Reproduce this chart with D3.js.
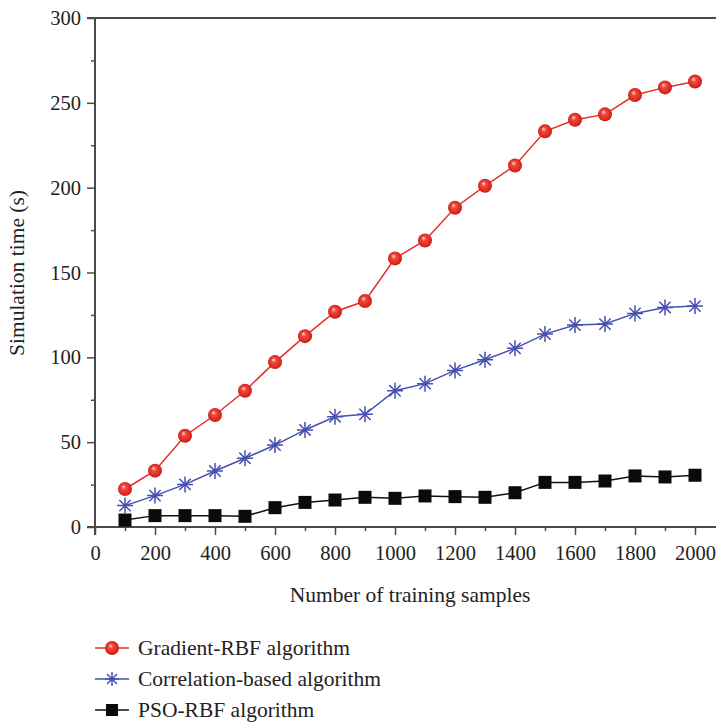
<!DOCTYPE html>
<html>
<head>
<meta charset="utf-8">
<script src="https://cdn.jsdelivr.net/npm/d3@7"></script>
<style>
  body { margin: 0; background: #fff; }
</style>
</head>
<body>
<div id="chart-area"></div>
<script>
// training sample counts
var samples = [100, 200, 300, 400, 500, 600, 700, 800, 900, 1000,
  1100, 1200, 1300, 1400, 1500, 1600, 1700, 1800, 1900, 2000]

// simulation times (s)
var gradientRBF = [22.4, 33.2, 53.8, 66.0, 80.3, 97.2, 112.5, 126.9, 133.2, 158.3,
  168.9, 188.2, 201.1, 213.1, 233.2, 240.0, 243.2, 254.6, 259.1, 262.6]
var correlationBased = [12.6, 18.5, 25.1, 33.0, 40.5, 48.3, 57.2, 65.0, 66.4, 80.3,
  84.5, 92.3, 98.6, 105.3, 113.7, 119.0, 119.6, 125.9, 129.4, 130.2]
var psoRBF = [4.1, 6.7, 6.7, 6.7, 6.3, 11.4, 14.5, 15.9, 17.5, 16.9,
  18.3, 17.9, 17.5, 20.2, 26.3, 26.3, 27.1, 30.1, 29.5, 30.5]

var xTicks = [0, 200, 400, 600, 800, 1000, 1200, 1400, 1600, 1800, 2000]
var yTicks = [0, 50, 100, 150, 200, 250, 300]
var seriesNames = ["Gradient-RBF algorithm", "Correlation-based algorithm", "PSO-RBF algorithm"]

var width = 716, height = 722
var serif = "'Liberation Serif'"
var fs = 20.5

var svg = d3.select("#chart-area")
  .append("svg")
  .attr("width", width)
  .attr("height", height)
  .style("font-family", serif)

var defs = svg.append("defs")
var grad = defs.append("radialGradient")
  .attr("id", "ball")
  .attr("cx", "50%").attr("cy", "50%").attr("r", "55%")
  .attr("fx", "38%").attr("fy", "32%")
grad.append("stop").attr("offset", "0%").attr("stop-color", "#fde2e2")
grad.append("stop").attr("offset", "30%").attr("stop-color", "#ee4a40")
grad.append("stop").attr("offset", "75%").attr("stop-color", "#e0271d")
grad.append("stop").attr("offset", "100%").attr("stop-color", "#b5170f")

var x = d3.scaleLinear()
  .domain([0, 2070])
  .range([95, 716])

var y = d3.scaleLinear()
  .domain([0, 300])
  .range([527, 18])

var axisColor = "#4a4a4a"

// frame lines
svg.append("line")
  .attr("x1", 95).attr("x2", 95)
  .attr("y1", y(300)).attr("y2", y(0) + 8)
  .attr("stroke", axisColor).attr("stroke-width", 2)
svg.append("line")
  .attr("x1", 87).attr("x2", width)
  .attr("y1", y(0)).attr("y2", y(0))
  .attr("stroke", axisColor).attr("stroke-width", 2)
svg.append("line")
  .attr("x1", 87).attr("x2", width)
  .attr("y1", y(300)).attr("y2", y(300))
  .attr("stroke", axisColor).attr("stroke-width", 2)

function styleAxis(g) {
  g.attr("font-family", null).attr("font-size", null)
  g.select(".domain").remove()
  g.selectAll("line").attr("stroke", axisColor).attr("stroke-width", 1.5)
  g.selectAll("text")
    .style("font-family", serif)
    .style("font-size", fs + "px")
    .attr("fill", "#222")
}

// y axis
svg.append("g")
  .attr("transform", "translate(95,0)")
  .call(d3.axisLeft(y).tickValues(yTicks).tickSize(8).tickPadding(6).tickFormat(d3.format("d")))
  .call(styleAxis)

svg.append("g")
  .attr("transform", "translate(95,0)")
  .call(d3.axisLeft(y).tickValues([25, 75, 125, 175, 225, 275]).tickSize(4).tickFormat(""))
  .call(styleAxis)

// x axis
svg.append("g")
  .attr("transform", "translate(0," + y(0) + ")")
  .call(d3.axisBottom(x).tickValues(xTicks).tickSize(8).tickPadding(10).tickFormat(d3.format("d")))
  .call(styleAxis)

svg.append("g")
  .attr("transform", "translate(0," + y(0) + ")")
  .call(d3.axisBottom(x).tickValues(d3.range(100, 2100, 200)).tickSize(4).tickFormat(""))
  .call(styleAxis)

// axis titles
svg.append("text")
  .attr("x", 410)
  .attr("y", 602)
  .attr("text-anchor", "middle")
  .style("font-size", "21.5px")
  .attr("fill", "#222")
  .text("Number of training samples")

svg.append("text")
  .attr("transform", "translate(24,273) rotate(-90)")
  .attr("text-anchor", "middle")
  .style("font-size", "21.5px")
  .attr("fill", "#222")
  .text("Simulation time (s)")

var line = d3.line()
  .x(function(d) { return x(d[0]) })
  .y(function(d) { return y(d[1]) })

function pairs(vals) {
  return samples.map(function(s, i) { return [s, vals[i]] })
}

// asterisk marker path
function star(r) {
  var p = ""
  for (var k = 0; k < 4; k++) {
    var a = k * Math.PI / 4
    var dx = r * Math.cos(a), dy = r * Math.sin(a)
    p += "M" + (-dx) + "," + (-dy) + "L" + dx + "," + dy
  }
  return p
}

// black series
svg.append("path")
  .datum(pairs(psoRBF))
  .attr("d", line)
  .attr("fill", "none")
  .attr("stroke", "#111")
  .attr("stroke-width", 1.5)
svg.selectAll(".sq")
  .data(pairs(psoRBF))
  .enter()
  .append("rect")
  .attr("x", function(d) { return x(d[0]) - 6.5 })
  .attr("y", function(d) { return y(d[1]) - 6.5 })
  .attr("width", 13)
  .attr("height", 13)
  .attr("fill", "#0a0a0a")

// blue series
svg.append("path")
  .datum(pairs(correlationBased))
  .attr("d", line)
  .attr("fill", "none")
  .attr("stroke", "#4650b0")
  .attr("stroke-width", 1.5)
svg.selectAll(".st")
  .data(pairs(correlationBased))
  .enter()
  .append("path")
  .attr("transform", function(d) { return "translate(" + x(d[0]) + "," + y(d[1]) + ")" })
  .attr("d", star(8))
  .attr("stroke", "#4650b0")
  .attr("stroke-width", 1.5)
  .attr("fill", "none")

// red series
svg.append("path")
  .datum(pairs(gradientRBF))
  .attr("d", line)
  .attr("fill", "none")
  .attr("stroke", "#e4302a")
  .attr("stroke-width", 1.5)
svg.selectAll(".ball")
  .data(pairs(gradientRBF))
  .enter()
  .append("circle")
  .attr("cx", function(d) { return x(d[0]) })
  .attr("cy", function(d) { return y(d[1]) })
  .attr("r", 7)
  .attr("fill", "url(#ball)")

// legend
var legendY = [648, 679, 710]
var legendColors = ["#e4302a", "#4650b0", "#111"]
var legend = svg.selectAll(".legend")
  .data(seriesNames)
  .enter()
  .append("g")
  .attr("transform", function(d, i) { return "translate(0," + legendY[i] + ")" })

legend.append("line")
  .attr("x1", 95).attr("x2", 129)
  .attr("y1", 0).attr("y2", 0)
  .attr("stroke", function(d, i) { return legendColors[i] })
  .attr("stroke-width", 1.5)

legend.append("text")
  .attr("x", 138)
  .attr("y", 7)
  .style("font-size", "21.5px")
  .attr("fill", "#222")
  .text(function(d) { return d })

legend.filter(function(d, i) { return i === 0 })
  .append("circle")
  .attr("cx", 112).attr("cy", 0).attr("r", 7)
  .attr("fill", "url(#ball)")
legend.filter(function(d, i) { return i === 1 })
  .append("path")
  .attr("transform", "translate(112,0)")
  .attr("d", star(7))
  .attr("stroke", "#4650b0")
  .attr("stroke-width", 1.5)
legend.filter(function(d, i) { return i === 2 })
  .append("rect")
  .attr("x", 106).attr("y", -6).attr("width", 12).attr("height", 12)
  .attr("fill", "#0a0a0a")
</script>
</body>
</html>
